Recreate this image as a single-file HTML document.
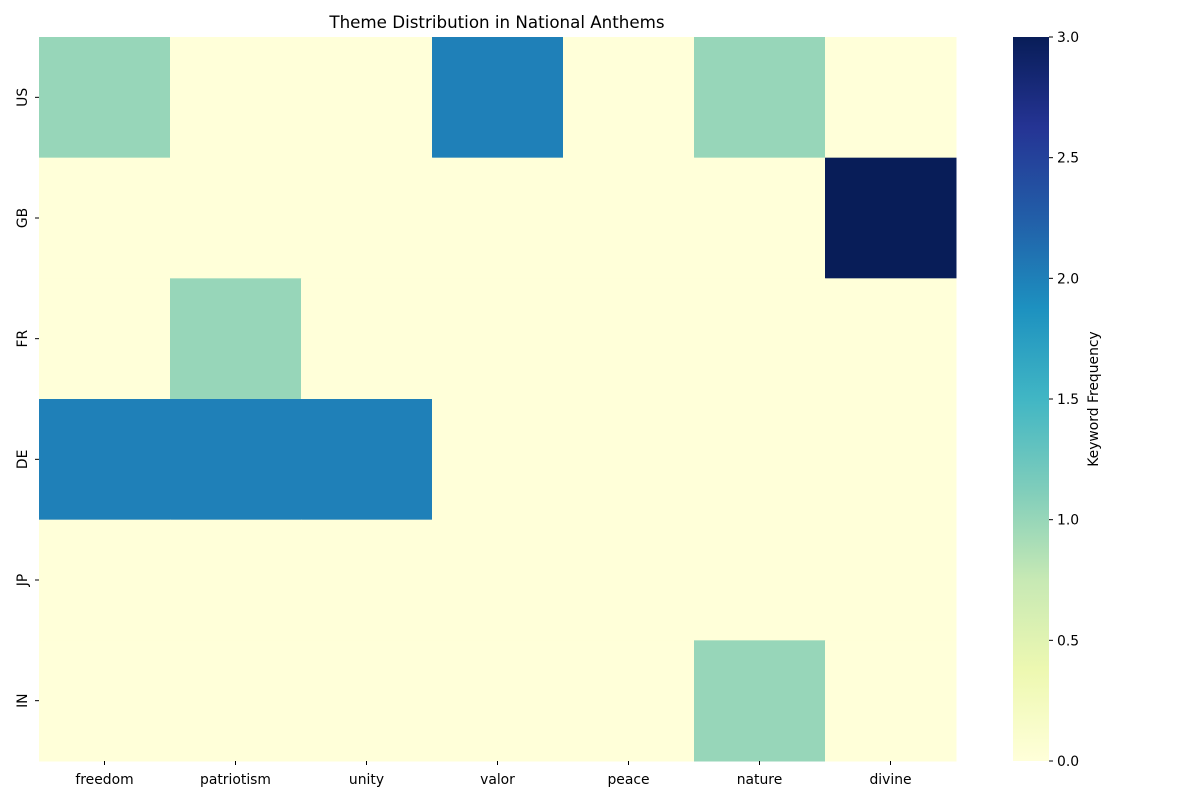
<!DOCTYPE html>
<html><head><meta charset="utf-8"><style>
body{margin:0;background:#fff;font-family:"DejaVu Sans","Liberation Sans",sans-serif;}
</style></head><body>
<svg id="chart" width="1200" height="800" xmlns="http://www.w3.org/2000/svg" font-family="DejaVu Sans, Liberation Sans, sans-serif">
<defs>
<linearGradient id="cbgrad" x1="0" y1="1" x2="0" y2="0">
<stop offset="0" stop-color="#ffffd9"/><stop offset="0.125" stop-color="#edf8b1"/><stop offset="0.25" stop-color="#c7e9b4"/><stop offset="0.375" stop-color="#7fcdbb"/><stop offset="0.5" stop-color="#41b6c4"/><stop offset="0.625" stop-color="#1d91c0"/><stop offset="0.75" stop-color="#225ea8"/><stop offset="0.875" stop-color="#253494"/><stop offset="1" stop-color="#081d58"/>
</linearGradient>
</defs>
<text x="497" y="28" text-anchor="middle" font-size="16.7">Theme Distribution in National Anthems</text>
<g id="cells"></g><g id="xt"></g><g id="yt"></g>
<rect x="1013" y="37" width="36" height="724" fill="url(#cbgrad)"/>
<g id="cbt"></g>
<text transform="translate(1098,399) rotate(-90)" text-anchor="middle" font-size="13.9">Keyword Frequency</text>
</svg>
<script>
const themes=["freedom","patriotism","unity","valor","peace","nature","divine"];
const countries=["US","GB","FR","DE","JP","IN"];
const rowUS=[1,0,0,2,0,1,0];
const rowGB=[0,0,0,0,0,0,3];
const rowFR=[0,1,0,0,0,0,0];
const rowDE=[2,2,2,0,0,0,0];
const rowJP=[0,0,0,0,0,0,0];
const rowIN=[0,0,0,0,0,1,0];
const cbTicks=[0,0.5,1,1.5,2,2.5,3];
const rows=[rowUS,rowGB,rowFR,rowDE,rowJP,rowIN];
const vmin=0,vmax=3;
const stops=["#ffffd9","#edf8b1","#c7e9b4","#7fcdbb","#41b6c4","#1d91c0","#225ea8","#253494","#081d58"];
function hex(h){return [1,3,5].map(i=>parseInt(h.substr(i,2),16));}
function cmap(v){let t=Math.max(0,Math.min(1,(v-vmin)/(vmax-vmin)))*8;let i=Math.min(7,Math.floor(t)),f=t-i;
const a=hex(stops[i]),b=hex(stops[i+1]);return "rgb("+a.map((x,k)=>Math.round(x+(b[k]-x)*f)).join(",")+")";}
const X0=39,X1=956,Y0=37,Y1=761;
const cw=(X1-X0)/themes.length,ch=(Y1-Y0)/countries.length;
const xs=i=>X0+i*cw, ys=j=>Y0+j*ch;
const NS="http://www.w3.org/2000/svg";
function mk(t,attrs,parent){const e=document.createElementNS(NS,t);for(const k in attrs)e.setAttribute(k,attrs[k]);document.getElementById(parent).appendChild(e);return e;}
rows.forEach((r,j)=>r.forEach((v,i)=>{
 const e=mk("rect",{x:xs(i),y:ys(j),width:cw+0.5,height:ch+0.5,fill:cmap(v)},"cells");
 
 
}));
themes.forEach((t,i)=>{
 const cx=xs(i)+cw/2;
 const l=mk("line",{x1:cx,x2:cx,y1:Y1,y2:Y1+4,stroke:"#000"},"xt");
 
 
 const e=mk("text",{x:cx,y:Y1+23,"text-anchor":"middle","font-size":"13.9"},"xt");e.textContent=t;
 
 
});
countries.forEach((c,j)=>{
 const cy=ys(j)+ch/2;
 const l=mk("line",{x1:X0-4,x2:X0,y1:cy,y2:cy,stroke:"#000"},"yt");
 
 
 const e=mk("text",{transform:"translate(27,"+cy+") rotate(-90)","text-anchor":"middle","font-size":"13.9"},"yt");e.textContent=c;
 
 
});
cbTicks.forEach(v=>{
 const y=Y1-(v-vmin)/(vmax-vmin)*(Y1-Y0);
 const l=mk("line",{x1:1049,x2:1053,y1:y,y2:y,stroke:"#000"},"cbt");
 
 
 const e=mk("text",{x:1057,y:y+5,"font-size":"13.9"},"cbt");e.textContent=v.toFixed(1);
 
 
});
</script>
</body></html>
